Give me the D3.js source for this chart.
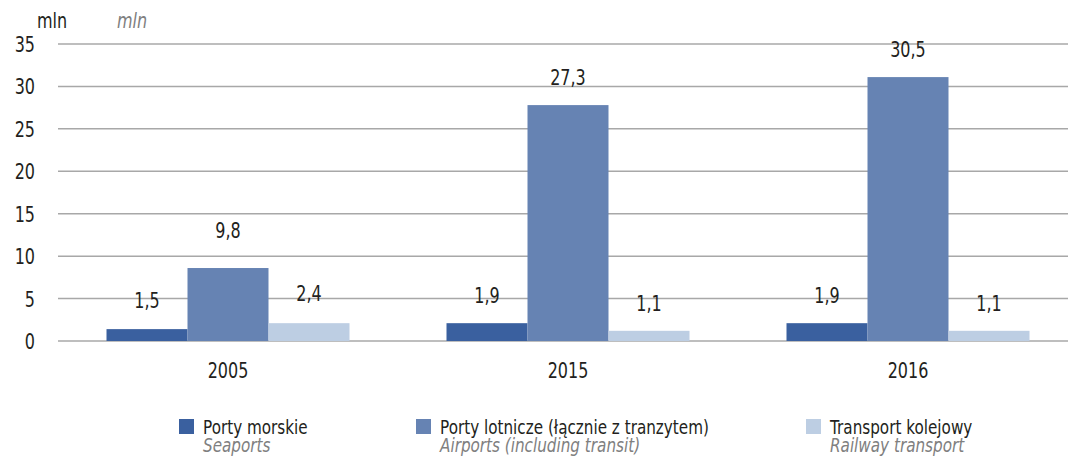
<!DOCTYPE html>
<html>
<head>
<meta charset="utf-8">
<script src="https://d3js.org/d3.v7.min.js"></script>
<style>
body { margin: 0; background: #fff; }
svg text { font-family: 'DejaVu Sans', sans-serif; fill: #231f20; }
.en { fill: #808080; font-style: italic; }
</style>
</head>
<body>
<svg id="chart"></svg>
<script>
const years = ["2005", "2015", "2016"];
const seriesPl = ["Porty morskie", "Porty lotnicze (łącznie z tranzytem)", "Transport kolejowy"];
const seriesEn = ["Seaports", "Airports (including transit)", "Railway transport"];
const seaports = [1.5, 1.9, 1.9];
const airports = [9.8, 27.3, 30.5];
const railway = [2.4, 1.1, 1.1];
// bar heights as drawn in the picture (they differ a little from the printed labels)
const seaportsBar = [1.4, 2.1, 2.1];
const airportsBar = [8.6, 27.8, 31.1];
const railwayBar = [2.1, 1.2, 1.2];
const yTicks = [0, 5, 10, 15, 20, 25, 30, 35];
const colors = ["#3a609f", "#6683b3", "#bdcee3"];

const width = 1068, height = 457;
const fs = 20.5;
const svg = d3.select("#chart").attr("width", width).attr("height", height);

const y = d3.scaleLinear().domain([0, 35]).range([341, 44]);
const x0 = d3.scaleBand().domain(years).range([58, 1078]);
const x1 = d3.scaleBand().domain(d3.range(3)).range([48.5, 291.5]);

const labels = [seaports, airports, railway];
const heights = [seaportsBar, airportsBar, railwayBar];

// gridlines
svg.append("g").selectAll("line").data(yTicks).enter().append("line")
  .attr("x1", 58).attr("x2", width)
  .attr("y1", d => y(d)).attr("y2", d => y(d))
  .attr("stroke", "#a8a8a8").attr("stroke-width", 1.5);

svg.append("g").selectAll("text").data(yTicks).enter().append("text")
  .attr("x", 35).attr("y", d => y(d) + 8)
  .attr("text-anchor", "end").attr("font-size", fs)
  .text(d => d);

svg.append("text").attr("x", 37).attr("y", 28).attr("font-size", fs).text("mln");
svg.append("text").attr("x", 117).attr("y", 28).attr("font-size", fs).attr("class", "en").text("mln");

// bars
const groups = svg.append("g").selectAll("g").data(years).enter().append("g")
  .attr("transform", d => `translate(${x0(d)},0)`);

groups.selectAll("rect").data((d, i) => heights.map((h, s) => ({ s, v: h[i] }))).enter().append("rect")
  .attr("x", d => x1(d.s)).attr("width", x1.bandwidth())
  .attr("y", d => y(d.v)).attr("height", d => y(0) - y(d.v))
  .attr("fill", d => colors[d.s]);

groups.selectAll("text.val").data((d, i) => labels.map((l, s) => ({ s, v: l[i], h: heights[s][i] }))).enter().append("text")
  .attr("class", "val")
  .attr("x", d => x1(d.s) + x1.bandwidth() / 2)
  .attr("y", d => y(Math.max(d.v, d.h)) - 20)
  .attr("text-anchor", "middle").attr("font-size", fs)
  .text(d => d3.format(".1f")(d.v).replace(".", ","));

groups.append("text")
  .attr("x", x0.bandwidth() / 2).attr("y", 378)
  .attr("text-anchor", "middle").attr("font-size", fs)
  .text(d => d);

// legend
const legendX = [179, 416, 806];
const legend = svg.append("g").selectAll("g").data(seriesPl).enter().append("g")
  .attr("transform", (d, i) => `translate(${legendX[i]},419)`);
legend.append("rect").attr("width", 15).attr("height", 15).attr("fill", (d, i) => colors[i]);
legend.append("text").attr("x", 24).attr("y", 15).attr("font-size", 19.5).text(d => d);
legend.append("text").attr("x", 24).attr("y", 33).attr("font-size", 19.5).attr("class", "en").text((d, i) => seriesEn[i]);

// squeeze the wide font to look like the condensed face of the original
svg.selectAll("text").each(function () {
  const len = this.getComputedTextLength();
  d3.select(this).attr("textLength", len * 0.78).attr("lengthAdjust", "spacingAndGlyphs");
});
</script>
</body>
</html>
